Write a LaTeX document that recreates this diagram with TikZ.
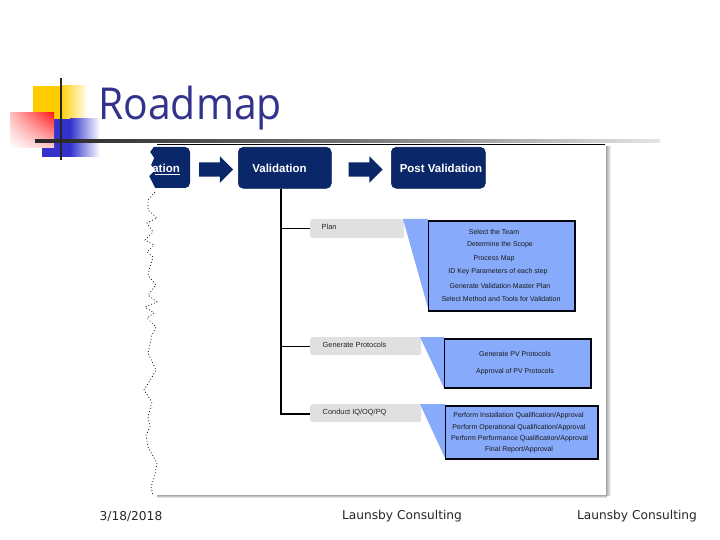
\documentclass[tikz,border=0pt]{standalone}
\usepackage{fontspec}
\setmainfont{DejaVu Sans}
\newfontfamily\arialf{Liberation Sans}
\newfontfamily\titlef{Open Sans}
\usetikzlibrary{shapes.arrows,calc,shadings}
\definecolor{navy}{RGB}{10,40,105}
\definecolor{lightblue}{RGB}{135,170,250}
\definecolor{pillgray}{RGB}{224,224,224}
\definecolor{titleblue}{RGB}{51,51,140}
\definecolor{decoyellow}{RGB}{255,204,0}
\definecolor{decoblue}{RGB}{51,51,204}
\tikzset{x=1pt,y=-1pt,
  sized/.style 2 args={minimum width=#1pt,minimum height=#2pt},
  stage/.style={draw=navy!80!black,fill=navy,rounded corners=5pt,line width=.6pt,anchor=north west,inner sep=0pt},
  stagetext/.style={text=white,font=\arialf\bfseries\fontsize{11.5}{12}\selectfont,inner sep=0pt},
  pill/.style={fill=pillgray,rounded corners=2.5pt,anchor=north west,inner sep=0pt},
  pilltext/.style={font=\arialf\fontsize{7.4}{9}\selectfont,text=black!85,inner sep=0pt,anchor=west},
  detail/.style={draw=black!85!navy,fill=lightblue,line width=1.7pt,anchor=north west,inner sep=0pt},
  item/.style={font=\arialf\fontsize{7}{8}\selectfont,text=black!90,inner sep=0pt},
  wedge/.style={fill=lightblue},
  flow/.style={single arrow,draw=none,fill=navy,minimum height=34pt,inner ysep=7pt,inner xsep=0pt,single arrow head extend=6pt,single arrow tip angle=90},
  branch/.style={draw=black,line width=1.2pt},
  foot/.style={font=\fontsize{12.2}{14}\selectfont,text=black!85,inner sep=0pt}}
\begin{document}
\begin{tikzpicture}
\useasboundingbox (0,0) rectangle (720,540);
\fill[white] (0,0) rectangle (720,540);
% bullet decoration
\shade[left color=decoyellow,right color=white] (60,86) rectangle (88,130);
\fill[decoyellow] (33,86) rectangle (60,130);
\shade[left color=decoblue,right color=white] (70,119) rectangle (100,157);
\fill[decoblue] (42,119) rectangle (70,157);
\shade[upper right=red!90!white,lower right=red!20,upper left=red!25,lower left=white] (10,113) rectangle (54,148);
% panel
\fill[white] (157,145) rectangle (606,495);
\shade[left color=black!35,right color=white] (606,147) rectangle (611,495);
\shade[top color=black!35,bottom color=white] (157,495) rectangle (607,498);
\draw[black,line width=.9pt] (157,144.5) -- (605,144.5);
% title rule
\shade[left color=black!85,right color=black!10,middle color=black!55] (35,140) rectangle (660,143);
\draw[black!85,line width=2.2pt] (61,78) -- (61,160);
\node[font=\titlef\fontsize{44}{46}\selectfont,text=titleblue,anchor=base west,inner sep=0pt,xscale=.93] (title) at (98,120) {Roadmap};
% stages
\fill[navy,rounded corners=5pt] (148,147) rectangle (190,188);
\fill[white] (140,145) -- (155,145) -- (150,152) -- (154,158) -- (151,165) -- (155,170) -- (149,176) -- (152,182) -- (156,190) -- (140,190) -- cycle;
\node[stagetext,anchor=east] (pre) at (180,168) {ation};
\draw[white,line width=.6pt] (155,174) -- (180,174);
\node[stage,sized={93}{41}] (val) at (238,147) {};
\node[stage,sized={94}{41}] (post) at (391,147) {};
\node[stagetext] (valt) at (279.5,168) {Validation};
\node[stagetext] (postt) at (441,168) {Post Validation};
\node[flow] (a1) at (212.5,169.5) {};
\node[flow] (a2) at (362,169.5) {};
% wavy torn edge
\draw[black,line width=.7pt,dash pattern=on .9pt off 2.2pt] plot coordinates {(155,192)(148,200)(148,210)(157,218)(147,223)(153,232)(145,240)(154,245)(147,252)(153,257)(150,267)(148,275)(156,285)(148,295)(157,302)(145,307)(154,313)(147,318)(156,327)(152,335)(148,353)(156,370)(152,377)(144,390)(152,402)(148,417)(150,427)(146,435)(148,447)(157,463)(155,475)(151,487)(153,495)};
% branch pills
\node[pill,sized={94}{19}] (plan) at (310,219) {};
\node[pill,sized={111}{18}] (gen) at (310,337) {};
\node[pill,sized={111}{18}] (con) at (310,404) {};
\node[pilltext] (plant) at (321.5,227) {Plan};
\node[pilltext] (gent) at (322.5,344.5) {Generate Protocols};
\node[pilltext] (cont) at (322.5,412.5) {Conduct IQ/OQ/PQ};
% connectors
\coordinate (tp) at (281,228.5);
\coordinate (tg) at (281,346);
\coordinate (tc) at (281,414);
\draw[branch] (val.south -| tp) -- (tc) -- (con.west |- tc);
\draw[branch,line width=.9pt] (tp) -- (plan.west |- tp);
\draw[branch,line width=.7pt] (tg) -- (gen.west |- tg);
% wedges
\fill[wedge] (403,219) -- (428,219) -- (428,308) -- cycle;
\fill[wedge] (420,337) -- (444,337) -- (444,388) -- cycle;
\fill[wedge] (420,404) -- (445,404) -- (445,458) -- cycle;
% detail boxes
\node[detail,sized={146.5}{90}] (d1) at (427.5,220) {};
\node[detail,sized={146.5}{49}] (d2) at (443.5,338) {};
\node[detail,sized={152.5}{53}] (d3) at (444.5,405) {};
\node[item] (i1) at (494,231.5) {Select the Team};
\node[item] (i2) at (500,245) {Determine the Scope};
\node[item] (i3) at (494,258.5) {Process Map};
\node[item] (i4) at (498,272) {ID Key Parameters of each step};
\node[item] (i5) at (500,285.5) {Generate Validation Master Plan};
\node[item] (i6) at (501,299) {Select Method and Tools for Validation};
\node[item] (j1) at (515,353.5) {Generate PV Protocols};
\node[item] (j2) at (515,371.5) {Approval of PV Protocols};
\node[item] (k1) at (518.5,416) {Perform Installation Qualification/Approval};
\node[item] (k2) at (519,427.5) {Perform Operational Qualification/Approval};
\node[item] (k3) at (519.5,438.5) {Perform Performance Qualification/Approval};
\node[item] (k4) at (519,449.5) {Final Report/Approval};
% footer
\node[foot] (f1) at (131,516.5) {3/18/2018};
\node[foot] (f2) at (402,516.5) {Launsby Consulting};
\node[foot] (f3) at (637,516.5) {Launsby Consulting};
\end{tikzpicture}
\end{document}
